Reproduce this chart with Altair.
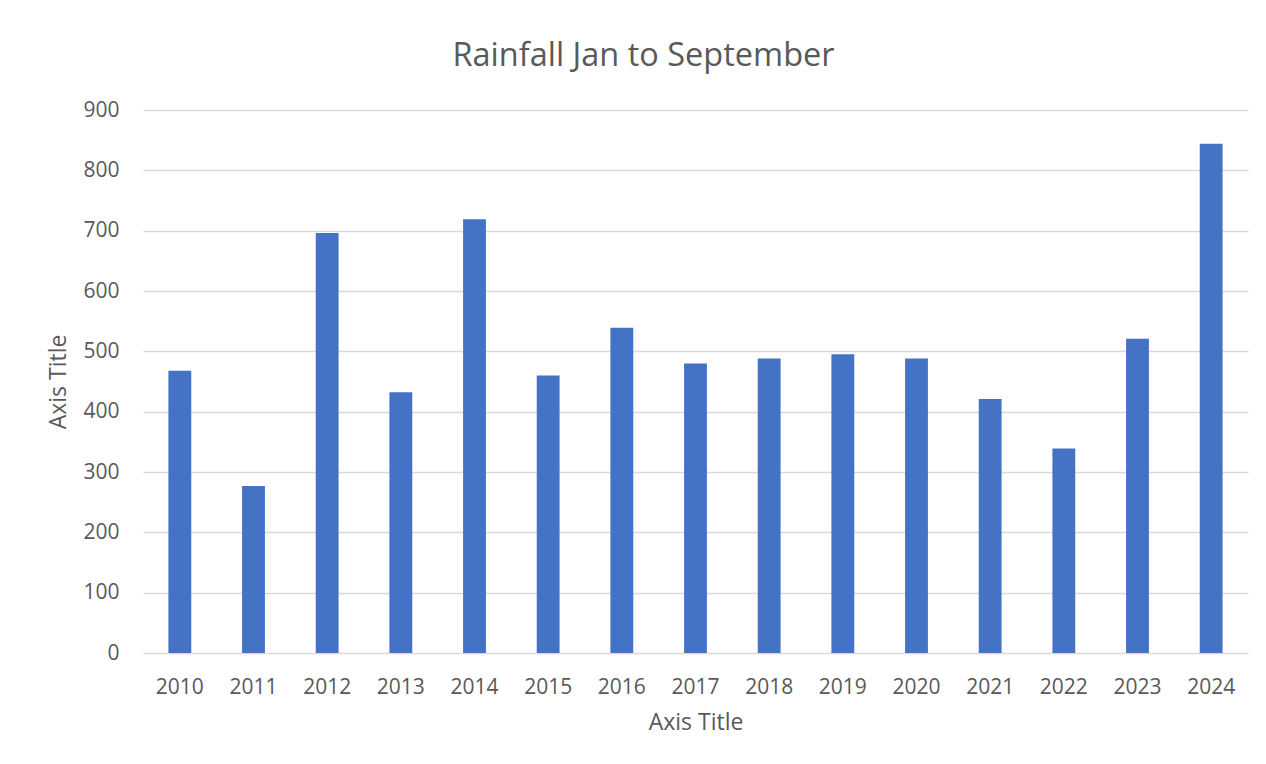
import altair as alt
import pandas as pd

years = ["2010", "2011", "2012", "2013", "2014", "2015", "2016", "2017",
         "2018", "2019", "2020", "2021", "2022", "2023", "2024"]
rainfall = [468, 277, 696, 432, 719, 460, 539, 480, 488, 495, 488, 421, 339, 521, 844]
y_ticks = [0, 100, 200, 300, 400, 500, 600, 700, 800, 900]

df = pd.DataFrame({"Year": years, "Rainfall": rainfall})

FONT = "Open Sans"
TXT = "#595959"

chart = alt.Chart(df).mark_bar(color="#4472C4").encode(
    x=alt.X(
        "Year:N",
        sort=years,
        scale=alt.Scale(paddingInner=0.69, paddingOuter=0.345),
        axis=alt.Axis(
            title="Axis Title",
            labelAngle=0,
            labelFont=FONT,
            labelFontSize=21,
            labelColor=TXT,
            labelPadding=23,
            titleFont=FONT,
            titleFontSize=23,
            titleFontWeight="normal",
            titleColor=TXT,
            titlePadding=14,
            ticks=False,
            domain=False,
            grid=False,
        ),
    ),
    y=alt.Y(
        "Rainfall:Q",
        scale=alt.Scale(domain=[0, 900], nice=False),
        axis=alt.Axis(
            title="Axis Title",
            values=y_ticks,
            labelFont=FONT,
            labelFontSize=21,
            labelColor=TXT,
            labelPadding=24,
            titleFont=FONT,
            titleFontSize=23,
            titleFontWeight="normal",
            titleColor=TXT,
            titlePadding=12,
            ticks=False,
            domain=False,
            grid=True,
            gridColor="#D9D9D9",
            gridWidth=1.4,
        ),
    ),
).properties(
    width=1105,
    height=543,
    background="white",
    title=alt.TitleParams(
        text="Rainfall Jan to September",
        font=FONT,
        fontSize=32.5,
        fontWeight="normal",
        color=TXT,
        anchor="middle",
        frame="group",
        baseline="alphabetic",
        offset=1,
        dx=-52,
    ),
    autosize=alt.AutoSizeParams(type="none"),
    padding={"left": 135, "top": 102, "right": 5, "bottom": 90},
).configure_view(strokeWidth=0, stroke="transparent")

chart.save("out.html", embed_options={"renderer": "svg", "actions": False})
